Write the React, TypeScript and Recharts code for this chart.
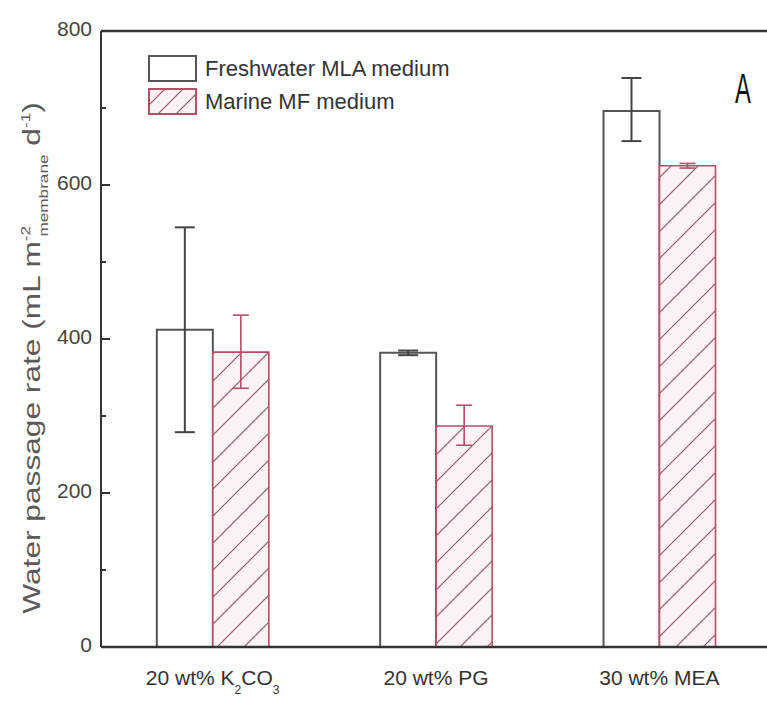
import React from 'react';
import {
  BarChart,
  Bar,
  XAxis,
  YAxis,
  ErrorBar,
  ReferenceLine,
  Legend,
  Label,
} from 'recharts';

const categories = ['20 wt% K2CO3', '20 wt% PG', '30 wt% MEA'];
const freshwater = [412, 382, 696];
const freshwaterLow = [279, 379, 657];
const freshwaterHigh = [545, 385, 739];
const marine = [383, 287, 625];
const marineLow = [336, 262, 622];
const marineHigh = [431, 314, 628];
const yTicks = [0, 100, 200, 300, 400, 500, 600, 700, 800];
const yLabelTicks = [0, 200, 400, 600, 800];

const data = categories.map((name, i) => ({
  name,
  freshwater: freshwater[i],
  freshwaterErr: [freshwater[i] - freshwaterLow[i], freshwaterHigh[i] - freshwater[i]],
  marine: marine[i],
  marineErr: [marine[i] - marineLow[i], marineHigh[i] - marine[i]],
}));

const FONT = '"Liberation Sans", Arial, sans-serif';
const AXIS = '#333';
const RED = '#b84d66';

// digits right after a capital letter are chemical subscripts
const XTick = (props: any) => {
  const { x, y, payload } = props;
  const text: string = String(payload.value);
  const parts: { t: string; sub: boolean }[] = [];
  for (let i = 0; i < text.length; i++) {
    const ch = text[i];
    const sub = /\d/.test(ch) && i > 0 && /[A-Z]/.test(text[i - 1]);
    const last = parts[parts.length - 1];
    if (last && last.sub === sub) last.t += ch;
    else parts.push({ t: ch, sub });
  }
  let shifted = false;
  return (
    <text x={x} y={y + 38} textAnchor="middle" fontSize={21} fill="#333" fontFamily={FONT}>
      {parts.map((p, i) => {
        let dy = 0;
        if (p.sub && !shifted) { dy = 9; shifted = true; }
        if (!p.sub && shifted) { dy = -9; shifted = false; }
        return (
          <tspan key={i} dy={dy} fontSize={p.sub ? 12 : 21}>{p.t}</tspan>
        );
      })}
    </text>
  );
};

const YTick = (props: any) => {
  const { x, y, payload } = props;
  const major = yLabelTicks.includes(payload.value);
  return (
    <g>
      <line x1={x} x2={x + (major ? 9 : 5)} y1={y} y2={y} stroke={AXIS} strokeWidth={2} />
      {major && (
        <text x={x - 9} y={y + 5} textAnchor="end" fontSize={21} fill="#444" fontFamily={FONT}>
          {payload.value}
        </text>
      )}
    </g>
  );
};

const YTitle = (props: any) => {
  const vb = props.viewBox;
  const cx = vb.x + 40;
  const cy = vb.y + vb.height / 2 + 19;
  return (
    <text
      transform={`translate(${cx},${cy}) rotate(-90) scale(1.32,1)`}
      textAnchor="middle"
      fontSize={24}
      fill="#5a5a5a"
      fontFamily={FONT}
    >
      Water passage rate (mL m
      <tspan dy={-10} fontSize={13}>-2</tspan>
      <tspan dx={-8} dy={18} fontSize={13}>membrane</tspan>
      <tspan dy={-8}> d</tspan>
      <tspan dy={-10} fontSize={13}>-1</tspan>
      <tspan dy={10}>)</tspan>
    </text>
  );
};

const PanelLetter = (props: any) => {
  const vb = props.viewBox;
  const x = vb.x + vb.width - 28;
  const y = vb.y + 72;
  return (
    <text
      transform={`translate(${x},${y}) scale(0.7,1.25)`}
      textAnchor="middle"
      fontSize={34}
      fill="#111"
      fontFamily={FONT}
    >
      A
    </text>
  );
};

const legendStyle: Record<string, { fill: string; stroke: string }> = {
  freshwater: { fill: '#fff', stroke: '#555' },
  marine: { fill: 'url(#hatchLegend)', stroke: RED },
};

const LegendContent = (props: any) => {
  const items = props.payload || [];
  return (
    <div style={{ fontFamily: FONT, fontSize: 22, color: '#333' }}>
      <svg width={0} height={0} style={{ position: 'absolute' }}>
        <defs>
          <pattern id="hatchLegend" patternUnits="userSpaceOnUse" width={18} height={18}>
            <rect width={18} height={18} fill="#fdf3f4" />
            <path d="M0,18 L18,0 M-5,5 L5,-5 M13,23 L23,13" stroke="#8c5a66" strokeWidth={1.2} />
          </pattern>
        </defs>
      </svg>
      {items.map((it: any) => {
        const s = legendStyle[it.dataKey] || legendStyle.freshwater;
        return (
          <div key={it.dataKey} style={{ display: 'flex', alignItems: 'center', height: 27, marginBottom: 6 }}>
            <svg width={49} height={27}>
              <rect x={1} y={1} width={47} height={25} fill={s.fill} stroke={s.stroke} strokeWidth={2} />
            </svg>
            <span style={{ marginLeft: 8, whiteSpace: 'nowrap' }}>{it.value}</span>
          </div>
        );
      })}
    </div>
  );
};

export default function App() {
  return (
    <div style={{ position: 'absolute', left: 0, top: 0, width: 767, height: 705, overflow: 'hidden', background: '#fff' }}>
      <BarChart
        width={771}
        height={705}
        data={data}
        margin={{ top: 31, right: 0, bottom: 0, left: 0 }}
        barCategoryGap="25%"
        barGap={0}
      >
        <defs>
          <pattern id="hatch" patternUnits="userSpaceOnUse" width={27} height={27}>
            <rect width={27} height={27} fill="#fdf3f4" />
            <path d="M0,27 L27,0 M-7,7 L7,-7 M20,34 L34,20" stroke="#8c5a66" strokeWidth={1.2} />
          </pattern>
        </defs>
        <XAxis
          dataKey="name"
          height={58}
          axisLine={{ stroke: AXIS, strokeWidth: 2.5 }}
          tickLine={false}
          tickSize={0}
          tickMargin={0}
          tick={<XTick />}
          interval={0}
        />
        <YAxis
          width={101}
          domain={[0, 800]}
          ticks={yTicks}
          interval={0}
          axisLine={{ stroke: AXIS, strokeWidth: 2 }}
          tickLine={false}
          tickSize={0}
          tickMargin={0}
          tick={<YTick />}
        >
          <Label content={<YTitle />} />
        </YAxis>
        <ReferenceLine y={800} stroke={AXIS} strokeWidth={2.5} label={<PanelLetter />} />
        <Legend
          layout="vertical"
          align="center"
          verticalAlign="middle"
          content={<LegendContent />}
          wrapperStyle={{ left: 148, top: 55, width: 'auto' }}
        />
        <Bar
          dataKey="freshwater"
          name="Freshwater MLA medium"
          fill="#fff"
          stroke="#555"
          strokeWidth={2}
          isAnimationActive={false}
        >
          <ErrorBar dataKey="freshwaterErr" width={10} stroke="#444" strokeWidth={2} />
        </Bar>
        <Bar
          dataKey="marine"
          name="Marine MF medium"
          fill="url(#hatch)"
          stroke={RED}
          strokeWidth={1.6}
          isAnimationActive={false}
        >
          <ErrorBar dataKey="marineErr" width={8} stroke={RED} strokeWidth={1.6} />
        </Bar>
      </BarChart>
    </div>
  );
}
